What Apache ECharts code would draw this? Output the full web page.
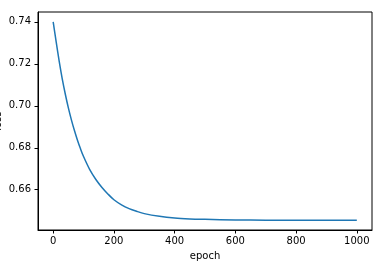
<!DOCTYPE html>
<html>
<head>
<meta charset="utf-8">
<script src="https://cdn.jsdelivr.net/npm/echarts@6/dist/echarts.min.js"></script>
<style>
html,body{margin:0;padding:0;background:#fff;}
#c{width:386px;height:269px;}
</style>
</head>
<body>
<div id="c"></div>
<script>
const epochs = [0, 10, 20, 30, 40, 50, 60, 70, 80, 90, 100, 120, 140, 160, 180, 200, 225, 250, 275, 300, 350, 400, 450, 500, 600, 700, 800, 900, 1000];
const loss = [0.7400, 0.7303, 0.7210, 0.7127, 0.7055, 0.6990, 0.6933, 0.6882, 0.6836, 0.6795, 0.6758, 0.6697, 0.6650, 0.6612, 0.6580, 0.6552, 0.6528, 0.6510, 0.6497, 0.6486, 0.6473, 0.6465, 0.6461, 0.6459, 0.6456, 0.6455, 0.6455, 0.6455, 0.6455];
const xTicks = [0, 200, 400, 600, 800, 1000];
const yTicks = [0.66, 0.68, 0.70, 0.72, 0.74];
const xLabel = 'epoch';
const yLabel = 'loss';

const font = 'DejaVu Sans';
const chart = echarts.init(document.getElementById('c'), null, {renderer: 'canvas'});
chart.setOption({
  animation: false,
  grid: {left: 38, right: 14, top: 12, bottom: 39, show: true, borderColor: '#000', borderWidth: 1, containLabel: false, outerBoundsMode: 'none'},
  xAxis: {
    type: 'value', min: -50, max: 1050,
    name: xLabel, nameLocation: 'middle', nameGap: 21, nameMoveOverlap: false,
    nameTextStyle: {fontFamily: font, fontSize: 10, color: '#000'},
    axisLine: {show: true, onZero: false, lineStyle: {color: '#000', width: 1}},
    axisTick: {show: true, inside: false, length: 3.5, lineStyle: {color: '#000'}, customValues: xTicks},
    axisLabel: {show: true, margin: 6, fontFamily: font, fontSize: 10, color: '#000', customValues: xTicks, formatter: v => String(v)},
    splitLine: {show: false}
  },
  yAxis: {
    type: 'value', min: 0.6408, max: 0.7447,
    name: yLabel, nameLocation: 'middle', nameGap: 35, nameRotate: 90, nameMoveOverlap: false,
    nameTextStyle: {fontFamily: font, fontSize: 10, color: '#000'},
    axisLine: {show: true, onZero: false, lineStyle: {color: '#000', width: 1}},
    axisTick: {show: true, inside: false, length: 3.5, lineStyle: {color: '#000'}, customValues: yTicks},
    axisLabel: {show: true, margin: 7, fontFamily: font, fontSize: 10, color: '#000', customValues: yTicks, formatter: v => v.toFixed(2)},
    splitLine: {show: false}
  },
  series: [{
    type: 'line', data: epochs.map((e, i) => [e, loss[i]]),
    smooth: 0.3, showSymbol: false, symbol: 'none',
    lineStyle: {color: '#1f77b4', width: 1.5}
  }]
});
</script>
</body>
</html>
